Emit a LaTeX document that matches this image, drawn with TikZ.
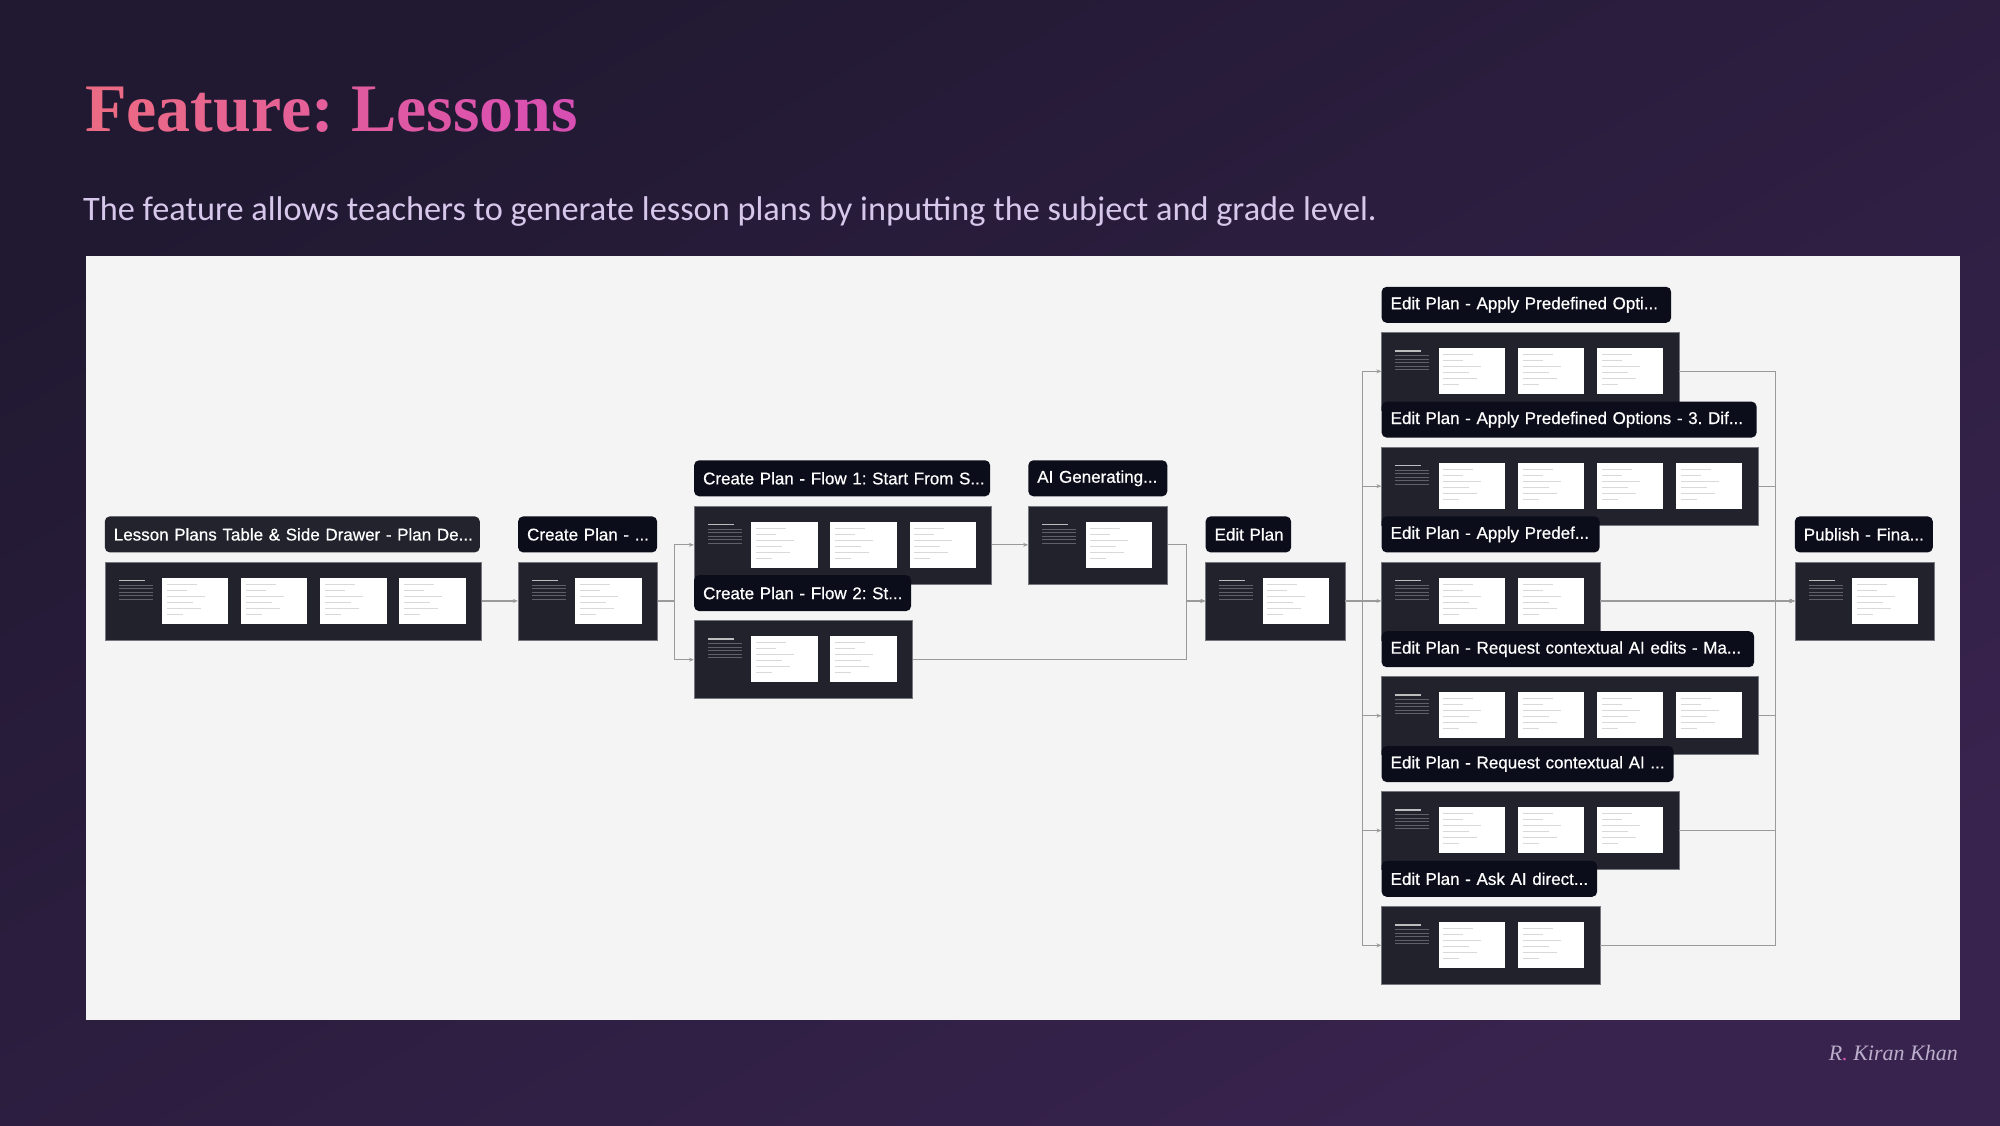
\documentclass[tikz,border=0pt]{standalone}
\usepackage{fontspec}
\setmainfont{Liberation Serif}
\newfontfamily\tagfont[FakeBold=0.6]{Liberation Sans}
\newfontfamily\leadfont{Carlito}
\usepackage{tikz}
\usetikzlibrary{positioning,arrows.meta}
\definecolor{bgtop}{HTML}{211932}
\definecolor{bgbot}{HTML}{38234E}
\definecolor{panel}{HTML}{F4F4F5}
\definecolor{tagbg}{HTML}{0B0D1B}
\definecolor{tagsel}{HTML}{22232D}
\definecolor{shotbg}{HTML}{22222C}
\definecolor{shotedge}{HTML}{76767F}
\definecolor{linkgray}{HTML}{9A9A9A}
\definecolor{tlA}{HTML}{EC6B84}
\definecolor{tlB}{HTML}{D84FB3}
\definecolor{leadcol}{HTML}{D6C7EB}
\definecolor{signcol}{HTML}{BCAFCB}

\newcommand{\titlehue}[2]{\textcolor{tlB!#1!tlA}{#2}}
% side notes and screen thumbnails inside a shot box
\newcommand{\screens}[2]{%
  \fill[white!70!shotbg] ([shift={(14,18)}]#1.north west) rectangle ++(26,1.6);
  \foreach \k in {0,...,4}
    \fill[white!28!shotbg] ([shift={(14,{23+3.5*\k})}]#1.north west) rectangle ++(34,1);
  \foreach \i in {1,...,#2} {
    \fill[white] ([shift={({57.4+79.1*(\i-1)},16)}]#1.north west) rectangle ++(66.3,46);
    \foreach \k/\w in {0/30,1/20,2/38,3/26,4/34,5/16}
      \fill[gray!30] ([shift={({62+79.1*(\i-1)},{22+6*\k})}]#1.north west) rectangle ++(\w,0.9);
  }}

\tikzset{
  shot/.style={draw=shotedge, fill=shotbg, line width=0.7pt, anchor=north west,
    minimum width={60+79.1*#1}, minimum height=78, inner sep=0},
  tag/.style={fill=tagbg, text=white, rounded corners=5pt, minimum height=36,
    inner xsep=9, inner ysep=0, align=left,
    font=\tagfont\fontsize{17}{20}\selectfont\frenchspacing},
  link/.style={draw=linkgray, line width=1.1pt, -{Stealth[length=5pt,width=4pt]}}
}

\begin{document}
\begin{tikzpicture}[x=1pt,y=-1pt]
  \useasboundingbox (0,0) rectangle (2000,1125);
  \shade[top color=bgtop, bottom color=bgbot, shading angle=30] (0,0) rectangle (2000,1125);
  \fill[panel] (85.5,256.4) rectangle (1960.4,1020.4);

  % heading
  \node[anchor=base west, inner sep=0, font=\fontsize{68}{70}\selectfont\bfseries\frenchspacing] (title) at (85,131.4)
    {\titlehue{0}{F}\titlehue{7}{e}\titlehue{13}{a}\titlehue{20}{t}\titlehue{27}{u}\titlehue{33}{r}\titlehue{40}{e}\titlehue{47}{:}
     \titlehue{60}{L}\titlehue{67}{e}\titlehue{73}{s}\titlehue{80}{s}\titlehue{87}{o}\titlehue{93}{n}\titlehue{100}{s}};
  \node[anchor=base west, inner sep=0, text=leadcol, font=\leadfont\fontsize{34.3}{40}\selectfont] (lead) at (83,220.7)
    {The feature allows teachers to generate lesson plans by inputting the subject and grade level.};
  \node[anchor=base east, inner sep=0, text=signcol, font=\itshape\fontsize{22}{24}\selectfont] (sign) at (1958,1060)
    {R\textcolor{tlB}{.} Kiran Khan};

  % flow
  \node[shot=4] (tbl) at (104.6,561.6) {};
  \screens{tbl}{4}
  \node[tag, fill=tagsel, text width=357pt, above right=9pt and 0pt of tbl.north west] (tbl-t) {\mbox{Lesson Plans Table \& Side Drawer - Plan De...}};

  \node[shot=1] (crt) at (517.9,561.6) {};
  \screens{crt}{1}
  \node[tag, text width=121pt, above right=9pt and 0pt of crt.north west] (crt-t) {\mbox{Create Plan - ...}};

  \node[shot=3] (fl1) at (693.9,505.5) {};
  \screens{fl1}{3}
  \node[tag, text width=278pt, above right=9pt and 0pt of fl1.north west] (fl1-t) {\mbox{Create Plan - Flow 1: Start From S...}};

  \node[shot=2] (fl2) at (693.9,620.3) {};
  \screens{fl2}{2}
  \node[tag, text width=199pt, above right=9pt and 0pt of fl2.north west] (fl2-t) {\mbox{Create Plan - Flow 2: St...}};

  \node[shot=1] (gen) at (1028.1,505.5) {};
  \screens{gen}{1}
  \node[tag, text width=121pt, above right=9pt and 0pt of gen.north west] (gen-t) {\mbox{AI Generating...}};

  \node[shot=1] (edt) at (1205.4,561.6) {};
  \screens{edt}{1}
  \node[tag, text width=67.5pt, above right=9pt and 0pt of edt.north west] (edt-t) {\mbox{Edit Plan}};

  \node[shot=3] (ap1) at (1381.4,332) {};
  \screens{ap1}{3}
  \node[tag, text width=271.5pt, above right=9pt and 0pt of ap1.north west] (ap1-t) {\mbox{Edit Plan - Apply Predefined Opti...}};

  \node[shot=4] (ap3) at (1381.4,446.8) {};
  \screens{ap3}{4}
  \node[tag, text width=357pt, above right=9pt and 0pt of ap3.north west] (ap3-t) {\mbox{Edit Plan - Apply Predefined Options - 3. Dif...}};

  \node[shot=2] (ap2) at (1381.4,561.6) {};
  \screens{ap2}{2}
  \node[tag, text width=200pt, above right=9pt and 0pt of ap2.north west] (ap2-t) {\mbox{Edit Plan - Apply Predef...}};

  \node[shot=4] (rq1) at (1381.4,676.4) {};
  \screens{rq1}{4}
  \node[tag, text width=354.5pt, above right=9pt and 0pt of rq1.north west] (rq1-t) {\mbox{Edit Plan - Request contextual AI edits - Ma...}};

  \node[shot=3] (rq2) at (1381.4,791.2) {};
  \screens{rq2}{3}
  \node[tag, text width=274pt, above right=9pt and 0pt of rq2.north west] (rq2-t) {\mbox{Edit Plan - Request contextual AI ...}};

  \node[shot=2] (ask) at (1381.4,906) {};
  \screens{ask}{2}
  \node[tag, text width=197.5pt, above right=9pt and 0pt of ask.north west] (ask-t) {\mbox{Edit Plan - Ask AI direct...}};

  \node[shot=1] (pub) at (1794.6,561.6) {};
  \screens{pub}{1}
  \node[tag, text width=120pt, above right=9pt and 0pt of pub.north west] (pub-t) {\mbox{Publish - Fina...}};

  % connectors
  \draw[link] (tbl.east) -- (crt.west);
  \foreach \t in {fl1,fl2}
    \draw[link] (crt.east) -| ([xshift=-19pt]\t.west) -- (\t.west);
  \draw[link] (fl1.east) -- (gen.west);
  \foreach \s in {gen,fl2}
    \draw[link] (\s.east) -| ([xshift=-19pt]edt.west) -- (edt.west);
  \foreach \t in {ap1,ap3,ap2,rq1,rq2,ask}
    \draw[link] (edt.east) -| ([xshift=-19pt]\t.west) -- (\t.west);
  \foreach \s in {ap1,ap3,ap2,rq1,rq2,ask}
    \draw[link] (\s.east) -| ([xshift=-19pt]pub.west) -- (pub.west);
\end{tikzpicture}
\end{document}
